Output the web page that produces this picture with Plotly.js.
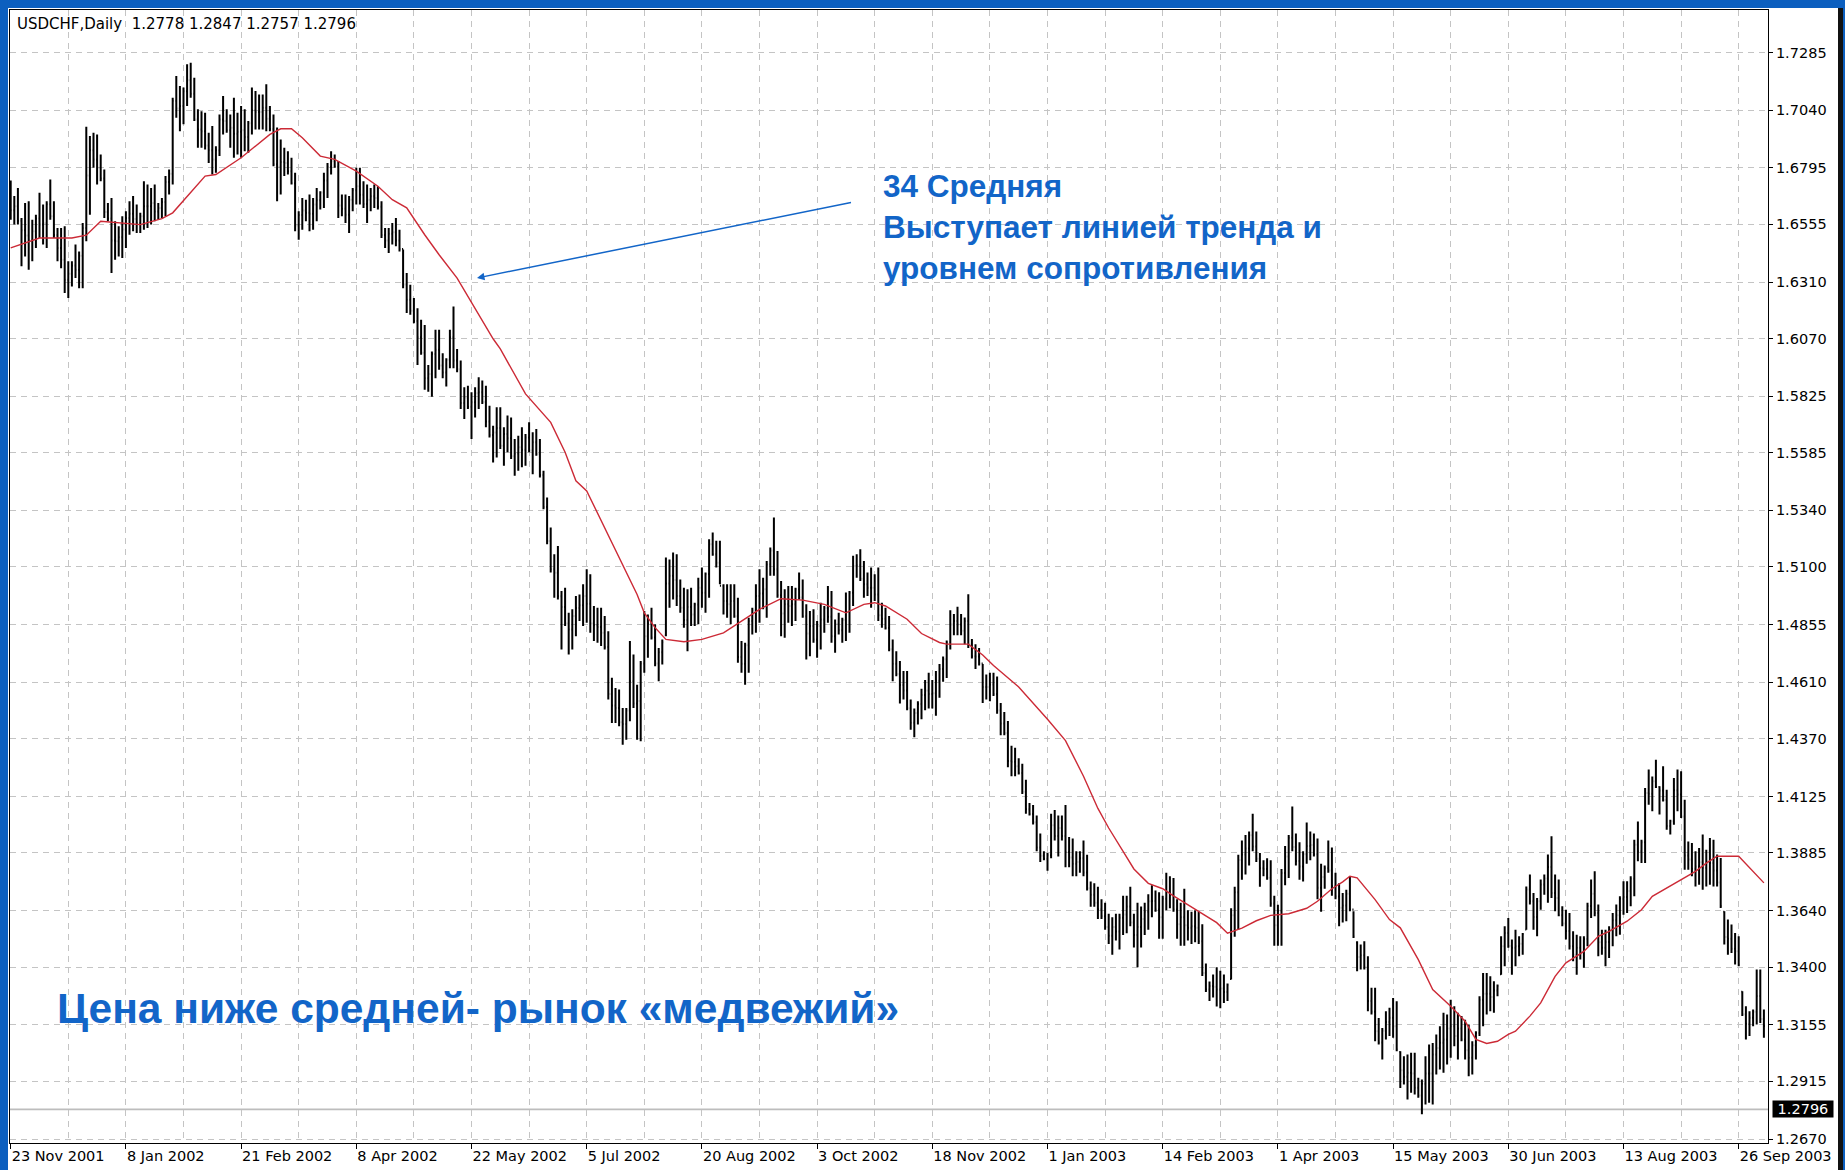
<!DOCTYPE html>
<html><head><meta charset="utf-8">
<script src="https://cdn.plot.ly/plotly-3.0.1.min.js"></script>
<style>
html,body{margin:0;padding:0;width:1845px;height:1170px;overflow:hidden;background:#0c5fbf;}
#edge{position:absolute;left:1838px;top:8px;width:5px;height:1162px;background:#111;}
#chart{position:absolute;left:8px;top:8px;width:1830px;height:1162px;background:#fff;}
</style></head>
<body><div id="edge"></div><div id="chart"></div>
<script>
// ---- header values (last bar O H L C) ----
const symbolName = "USDCHF,Daily";
const headerOHLC = [1.2778, 1.2847, 1.2757, 1.2796];
const lastClose = 1.2796;

// ---- x-axis date labels (one every 32 daily bars) ----
const dateLabels = ["23 Nov 2001","8 Jan 2002","21 Feb 2002","8 Apr 2002","22 May 2002","5 Jul 2002","20 Aug 2002","3 Oct 2002","18 Nov 2002","1 Jan 2003","14 Feb 2003","1 Apr 2003","15 May 2003","30 Jun 2003","13 Aug 2003","26 Sep 2003"];
const dateLabelBars = [0,32,64,96,128,160,192,224,256,288,320,352,384,416,448,480];

// ---- y-axis price labels ----
const priceTicks = [1.7285,1.7040,1.6795,1.6555,1.6310,1.6070,1.5825,1.5585,1.5340,1.5100,1.4855,1.4610,1.4370,1.4125,1.3885,1.3640,1.3400,1.3155,1.2915,1.2670];

// ---- daily bars ----
const highs = [
1.6741,1.6675,1.6710,1.6582,1.6646,1.6653,1.6575,1.6596,1.6689,1.6639,
1.6653,1.6746,1.6653,1.6540,1.6540,1.6547,1.6398,1.6398,1.6469,1.6440,
1.6561,1.6970,1.6930,1.6944,1.6937,1.6852,1.6788,1.6646,1.6667,1.6568,
1.6547,1.6589,1.6611,1.6653,1.6675,1.6639,1.6604,1.6738,1.6724,1.6710,
1.6724,1.6646,1.6667,1.6760,1.6788,1.7093,1.7185,1.7143,1.7136,1.7235,
1.7242,1.7178,1.7044,1.7036,1.7029,1.6944,1.6973,1.6887,1.7022,1.7100,
1.7044,1.7022,1.7093,1.7029,1.7058,1.7044,1.6994,1.7136,1.7122,1.7107,
1.7107,1.7150,1.7058,1.7022,1.6966,1.6916,1.6880,1.6866,1.6838,1.6774,
1.6611,1.6667,1.6660,1.6682,1.6667,1.6710,1.6696,1.6774,1.6816,1.6866,
1.6852,1.6824,1.6682,1.6682,1.6675,1.6710,1.6795,1.6795,1.6738,1.6724,
1.6710,1.6724,1.6717,1.6653,1.6540,1.6540,1.6561,1.6582,1.6532,1.6448,
1.6348,1.6299,1.6242,1.6199,1.6150,1.6128,1.5958,1.6015,1.6107,1.6107,
1.6008,1.5986,1.6107,1.6206,1.6026,1.5977,1.5863,1.5870,1.5842,1.5863,
1.5906,1.5892,1.5870,1.5785,1.5700,1.5778,1.5778,1.5693,1.5743,1.5735,
1.5643,1.5657,1.5693,1.5665,1.5714,1.5672,1.5686,1.5643,1.5508,1.5395,
1.5267,1.5154,1.5189,1.4998,1.5012,1.4905,1.4920,1.4976,1.4983,1.5026,
1.5090,1.5069,1.4934,1.4927,1.4927,1.4891,1.4827,1.4629,1.4586,1.4579,
1.4501,1.4501,1.4785,1.4728,1.4600,1.4700,1.4913,1.4898,1.4927,1.4856,
1.4756,1.4792,1.5140,1.5132,1.5161,1.5154,1.5047,1.5012,1.5005,1.5012,
1.4948,1.5054,1.5097,1.5076,1.5218,1.5246,1.5211,1.5211,1.5026,1.5026,
1.5026,1.5026,1.4969,1.4785,1.4778,1.4884,1.4927,1.5026,1.5090,1.5054,
1.5125,1.5182,1.5310,1.5168,1.5040,1.5005,1.5019,1.5019,1.5012,1.5076,
1.5047,1.4941,1.4913,1.4920,1.4870,1.4948,1.4934,1.5019,1.4998,1.4877,
1.4905,1.4884,1.4991,1.4998,1.5147,1.5154,1.5175,1.5125,1.5076,1.5097,
1.5069,1.5097,1.4948,1.4927,1.4891,1.4792,1.4742,1.4700,1.4658,1.4658,
1.4537,1.4499,1.4529,1.4582,1.4620,1.4650,1.4620,1.4658,1.4688,1.4719,
1.4787,1.4916,1.4900,1.4931,1.4900,1.4885,1.4984,1.4794,1.4772,1.4756,
1.4688,1.4643,1.4650,1.4650,1.4635,1.4522,1.4484,1.4446,1.4340,1.4332,
1.4287,1.4264,1.4196,1.4097,1.4089,1.4044,1.3968,1.3892,1.3885,1.4052,
1.4067,1.4044,1.4044,1.4089,1.3953,1.3946,1.3892,1.3892,1.3938,1.3877,
1.3764,1.3756,1.3741,1.3688,1.3673,1.3627,1.3612,1.3627,1.3627,1.3703,
1.3703,1.3741,1.3627,1.3673,1.3658,1.3673,1.3710,1.3748,1.3726,1.3718,
1.3703,1.3801,1.3786,1.3779,1.3688,1.3673,1.3733,1.3642,1.3635,1.3642,
1.3635,1.3582,1.3415,1.3339,1.3369,1.3400,1.3385,1.3369,1.3331,1.3650,
1.3741,1.3877,1.3938,1.3961,1.3976,1.4052,1.3976,1.3885,1.3854,1.3862,
1.3854,1.3703,1.3665,1.3817,1.3915,1.3961,1.4082,1.3968,1.3930,1.3892,
1.4014,1.3976,1.3968,1.3946,1.3839,1.3832,1.3938,1.3908,1.3801,1.3756,
1.3715,1.3729,1.3786,1.3637,1.3510,1.3496,1.3510,1.3446,1.3312,1.3312,
1.3184,1.3142,1.3213,1.3227,1.3269,1.3255,1.3043,1.3022,1.3029,1.3036,
1.3036,1.2930,1.2923,1.3022,1.3071,1.3078,1.3114,1.3149,1.3206,1.3199,
1.3262,1.3234,1.3206,1.3192,1.3177,1.3156,1.3085,1.3128,1.3276,1.3375,
1.3375,1.3361,1.3340,1.3326,1.3531,1.3574,1.3609,1.3517,1.3559,1.3531,
1.3545,1.3743,1.3793,1.3715,1.3694,1.3772,1.3793,1.3878,1.3956,1.3793,
1.3772,1.3659,1.3644,1.3630,1.3552,1.3538,1.3531,1.3531,1.3673,1.3772,
1.3807,1.3666,1.3559,1.3559,1.3574,1.3630,1.3666,1.3701,1.3765,1.3765,
1.3786,1.3941,1.4019,1.3941,1.4161,1.4239,1.4210,1.4281,1.4168,1.4253,
1.4154,1.4026,1.4203,1.4239,1.4232,1.4111,1.3934,1.3927,1.3892,1.3906,
1.3963,1.3899,1.3949,1.3941,1.3878,1.3864,1.3637,1.3602,1.3581,1.3545,
1.3531,1.3298,1.3234,1.3213,1.3220,1.3390,1.3390,1.3220];

const lows = [
1.6575,1.6554,1.6554,1.6377,1.6419,1.6362,1.6398,1.6455,1.6497,1.6469,
1.6455,1.6575,1.6497,1.6398,1.6369,1.6263,1.6242,1.6291,1.6327,1.6284,
1.6284,1.6483,1.6596,1.6795,1.6724,1.6738,1.6582,1.6568,1.6348,1.6405,
1.6419,1.6412,1.6455,1.6511,1.6526,1.6518,1.6518,1.6532,1.6540,1.6554,
1.6568,1.6575,1.6582,1.6589,1.6682,1.6724,1.7008,1.6951,1.6980,1.7058,
1.7093,1.6994,1.6880,1.6880,1.6873,1.6816,1.6767,1.6774,1.6845,1.6937,
1.6944,1.6880,1.6838,1.6852,1.6838,1.6866,1.6859,1.6937,1.6958,1.6958,
1.6958,1.6951,1.6951,1.6802,1.6653,1.6682,1.6760,1.6767,1.6724,1.6526,
1.6490,1.6532,1.6568,1.6526,1.6532,1.6568,1.6618,1.6625,1.6667,1.6767,
1.6795,1.6582,1.6589,1.6561,1.6518,1.6611,1.6639,1.6639,1.6625,1.6561,
1.6611,1.6625,1.6618,1.6497,1.6455,1.6433,1.6469,1.6462,1.6440,1.6284,
1.6178,1.6171,1.6135,1.5958,1.6001,1.5852,1.5844,1.5823,1.5901,1.5937,
1.5901,1.5866,1.5944,1.5944,1.5927,1.5771,1.5728,1.5771,1.5643,1.5735,
1.5771,1.5792,1.5693,1.5650,1.5544,1.5565,1.5601,1.5530,1.5587,1.5558,
1.5487,1.5508,1.5523,1.5530,1.5587,1.5494,1.5572,1.5480,1.5345,1.5196,
1.5076,1.4969,1.4962,1.4749,1.4849,1.4728,1.4749,1.4806,1.4870,1.4849,
1.4863,1.4820,1.4785,1.4778,1.4764,1.4749,1.4537,1.4437,1.4437,1.4423,
1.4345,1.4366,1.4444,1.4501,1.4366,1.4359,1.4650,1.4714,1.4792,1.4678,
1.4614,1.4685,1.4806,1.4927,1.4962,1.4934,1.4905,1.4842,1.4742,1.4849,
1.4849,1.4856,1.4927,1.4905,1.4969,1.5147,1.5097,1.5026,1.4898,1.4884,
1.4856,1.4884,1.4693,1.4650,1.4600,1.4650,1.4813,1.4820,1.4863,1.4920,
1.4884,1.5062,1.5062,1.4969,1.4806,1.4799,1.4863,1.4849,1.4870,1.4962,
1.4884,1.4707,1.4721,1.4778,1.4714,1.4749,1.4820,1.4863,1.4778,1.4735,
1.4813,1.4778,1.4785,1.4820,1.4934,1.5054,1.5040,1.4969,1.4976,1.4927,
1.4955,1.4870,1.4842,1.4834,1.4742,1.4614,1.4636,1.4520,1.4537,1.4491,
1.4408,1.4377,1.4431,1.4453,1.4491,1.4499,1.4499,1.4468,1.4544,1.4612,
1.4628,1.4749,1.4810,1.4810,1.4810,1.4772,1.4756,1.4711,1.4666,1.4681,
1.4522,1.4537,1.4529,1.4552,1.4476,1.4385,1.4385,1.4249,1.4211,1.4211,
1.4218,1.4135,1.4052,1.4044,1.4006,1.3892,1.3847,1.3854,1.3809,1.3862,
1.3938,1.3870,1.3938,1.3824,1.3824,1.3786,1.3786,1.3801,1.3786,1.3726,
1.3657,1.3657,1.3604,1.3604,1.3559,1.3498,1.3453,1.3513,1.3475,1.3536,
1.3544,1.3574,1.3483,1.3400,1.3483,1.3536,1.3559,1.3612,1.3635,1.3521,
1.3521,1.3642,1.3650,1.3635,1.3521,1.3491,1.3491,1.3513,1.3498,1.3506,
1.3498,1.3362,1.3294,1.3256,1.3271,1.3233,1.3225,1.3248,1.3256,1.3347,
1.3529,1.3559,1.3771,1.3794,1.3832,1.3892,1.3847,1.3741,1.3786,1.3771,
1.3657,1.3491,1.3491,1.3491,1.3748,1.3779,1.3892,1.3832,1.3771,1.3764,
1.3839,1.3854,1.3870,1.3688,1.3635,1.3733,1.3801,1.3703,1.3688,1.3574,
1.3590,1.3595,1.3637,1.3524,1.3383,1.3390,1.3390,1.3213,1.3199,1.3085,
1.3071,1.3008,1.3093,1.3107,1.3100,1.3043,1.2887,1.2901,1.2838,1.2866,
1.2859,1.2845,1.2775,1.2817,1.2824,1.2817,1.2944,1.2965,1.2951,1.2986,
1.3015,1.3064,1.3008,1.3085,1.3008,1.2937,1.2944,1.3008,1.3107,1.3149,
1.3199,1.3213,1.3206,1.3276,1.3368,1.3404,1.3482,1.3368,1.3404,1.3446,
1.3453,1.3559,1.3666,1.3559,1.3531,1.3644,1.3708,1.3673,1.3694,1.3637,
1.3616,1.3574,1.3517,1.3475,1.3425,1.3368,1.3432,1.3397,1.3489,1.3609,
1.3616,1.3446,1.3453,1.3404,1.3439,1.3489,1.3531,1.3538,1.3623,1.3630,
1.3659,1.3701,1.3850,1.3842,1.3842,1.4090,1.4062,1.4161,1.4048,1.4104,
1.3984,1.3963,1.4005,1.4062,1.4033,1.3814,1.3814,1.3786,1.3743,1.3750,
1.3729,1.3743,1.3750,1.3743,1.3743,1.3651,1.3496,1.3453,1.3460,1.3411,
1.3404,1.3192,1.3093,1.3107,1.3149,1.3156,1.3163,1.3100];

const opens = [
1.6700,1.6615,1.6632,1.6570,1.6530,1.6508,1.6487,1.6526,1.6580,1.6554,
1.6560,1.6640,1.6590,1.6510,1.6455,1.6405,1.6320,1.6345,1.6380,1.6362,
1.6422,1.6540,1.6763,1.6870,1.6830,1.6795,1.6750,1.6607,1.6580,1.6486,
1.6483,1.6500,1.6533,1.6582,1.6600,1.6578,1.6561,1.6590,1.6632,1.6632,
1.6646,1.6610,1.6625,1.6650,1.6735,1.6770,1.7080,1.7047,1.7058,1.7120,
1.7167,1.7110,1.7000,1.6958,1.6951,1.6890,1.6870,1.6830,1.6870,1.7000,
1.6994,1.6955,1.6965,1.6940,1.6948,1.6955,1.6926,1.6985,1.7040,1.7032,
1.7032,1.7050,1.7004,1.6960,1.6810,1.6800,1.6820,1.6816,1.6781,1.6730,
1.6550,1.6595,1.6614,1.6604,1.6600,1.6639,1.6657,1.6690,1.6741,1.6800,
1.6823,1.6800,1.6635,1.6621,1.6596,1.6660,1.6700,1.6717,1.6681,1.6642,
1.6660,1.6674,1.6667,1.6630,1.6510,1.6486,1.6515,1.6522,1.6486,1.6450,
1.6300,1.6235,1.6188,1.6145,1.6075,1.6010,1.5901,1.5919,1.6004,1.6022,
1.5955,1.5926,1.5980,1.6075,1.5977,1.5940,1.5796,1.5820,1.5780,1.5799,
1.5838,1.5842,1.5800,1.5718,1.5660,1.5671,1.5690,1.5615,1.5665,1.5647,
1.5570,1.5582,1.5608,1.5598,1.5650,1.5595,1.5629,1.5580,1.5490,1.5355,
1.5210,1.5090,1.5075,1.4975,1.4930,1.4860,1.4834,1.4891,1.4926,1.4937,
1.4976,1.4944,1.4860,1.4852,1.4845,1.4820,1.4760,1.4560,1.4511,1.4501,
1.4440,1.4433,1.4490,1.4614,1.4520,1.4530,1.4690,1.4806,1.4860,1.4800,
1.4690,1.4738,1.4810,1.5030,1.5062,1.5044,1.4976,1.4927,1.4874,1.4930,
1.4898,1.4940,1.5012,1.4990,1.5070,1.5196,1.5154,1.5118,1.5020,1.4955,
1.4941,1.4955,1.4890,1.4717,1.4689,1.4767,1.4870,1.4915,1.4976,1.4987,
1.5005,1.5110,1.5170,1.5090,1.4980,1.4902,1.4941,1.4934,1.4941,1.5005,
1.4970,1.4890,1.4817,1.4849,1.4792,1.4849,1.4877,1.4925,1.4888,1.4806,
1.4859,1.4831,1.4875,1.4909,1.4990,1.5104,1.5107,1.5050,1.5026,1.5012,
1.5012,1.4983,1.4895,1.4880,1.4840,1.4750,1.4689,1.4645,1.4598,1.4575,
1.4500,1.4438,1.4480,1.4518,1.4556,1.4575,1.4560,1.4563,1.4616,1.4666,
1.4708,1.4780,1.4855,1.4870,1.4855,1.4829,1.4870,1.4770,1.4720,1.4719,
1.4690,1.4590,1.4590,1.4601,1.4560,1.4490,1.4435,1.4395,1.4276,1.4272,
1.4253,1.4225,1.4145,1.4071,1.4050,1.4015,1.3908,1.3873,1.3860,1.3875,
1.4003,1.3957,1.3991,1.3957,1.3889,1.3866,1.3839,1.3847,1.3862,1.3802,
1.3735,1.3707,1.3673,1.3646,1.3616,1.3570,1.3533,1.3570,1.3551,1.3610,
1.3624,1.3658,1.3590,1.3537,1.3571,1.3605,1.3635,1.3680,1.3681,1.3645,
1.3612,1.3690,1.3718,1.3707,1.3645,1.3582,1.3612,1.3578,1.3567,1.3574,
1.3567,1.3510,1.3375,1.3305,1.3320,1.3317,1.3305,1.3309,1.3294,1.3350,
1.3620,1.3718,1.3855,1.3878,1.3904,1.3960,1.3912,1.3860,1.3820,1.3817,
1.3780,1.3670,1.3578,1.3640,1.3800,1.3870,1.3950,1.3910,1.3851,1.3828,
1.3880,1.3915,1.3919,1.3880,1.3737,1.3783,1.3820,1.3810,1.3745,1.3700,
1.3652,1.3662,1.3712,1.3645,1.3505,1.3443,1.3450,1.3400,1.3256,1.3210,
1.3128,1.3080,1.3130,1.3167,1.3185,1.3149,1.3040,1.2962,1.2934,1.2951,
1.2948,1.2888,1.2855,1.2905,1.2948,1.2948,1.3029,1.3057,1.3079,1.3093,
1.3139,1.3149,1.3107,1.3139,1.3093,1.3047,1.3015,1.3068,1.3120,1.3262,
1.3287,1.3287,1.3273,1.3301,1.3370,1.3489,1.3545,1.3490,1.3482,1.3489,
1.3499,1.3560,1.3730,1.3680,1.3613,1.3680,1.3751,1.3776,1.3825,1.3715,
1.3694,1.3620,1.3585,1.3553,1.3489,1.3453,1.3482,1.3464,1.3520,1.3660,
1.3712,1.3630,1.3506,1.3482,1.3507,1.3560,1.3599,1.3620,1.3690,1.3698,
1.3723,1.3775,1.3920,1.3892,1.3930,1.4140,1.4136,1.4190,1.4165,1.4150,
1.4110,1.4000,1.4020,1.4151,1.4133,1.4040,1.3874,1.3857,1.3818,1.3828,
1.3846,1.3821,1.3850,1.3842,1.3811,1.3760,1.3635,1.3528,1.3521,1.3478,
1.3468,1.3295,1.3200,1.3160,1.3185,1.3210,1.3277,1.3180];

const closes = [
1.6615,1.6632,1.6570,1.6530,1.6508,1.6487,1.6526,1.6580,1.6554,1.6560,
1.6640,1.6590,1.6510,1.6455,1.6405,1.6320,1.6345,1.6380,1.6362,1.6422,
1.6540,1.6763,1.6870,1.6830,1.6795,1.6750,1.6607,1.6580,1.6486,1.6483,
1.6500,1.6533,1.6582,1.6600,1.6578,1.6561,1.6590,1.6632,1.6632,1.6646,
1.6610,1.6625,1.6650,1.6735,1.6770,1.7080,1.7047,1.7058,1.7120,1.7167,
1.7110,1.7000,1.6958,1.6951,1.6890,1.6870,1.6830,1.6870,1.7000,1.6994,
1.6955,1.6965,1.6940,1.6948,1.6955,1.6926,1.6985,1.7040,1.7032,1.7032,
1.7050,1.7004,1.6960,1.6810,1.6800,1.6820,1.6816,1.6781,1.6730,1.6550,
1.6595,1.6614,1.6604,1.6600,1.6639,1.6657,1.6690,1.6741,1.6800,1.6823,
1.6800,1.6635,1.6621,1.6596,1.6660,1.6700,1.6717,1.6681,1.6642,1.6660,
1.6674,1.6667,1.6630,1.6510,1.6486,1.6515,1.6522,1.6486,1.6450,1.6300,
1.6235,1.6188,1.6145,1.6075,1.6010,1.5901,1.5919,1.6004,1.6022,1.5955,
1.5926,1.5980,1.6075,1.5977,1.5940,1.5796,1.5820,1.5780,1.5799,1.5838,
1.5842,1.5800,1.5718,1.5660,1.5671,1.5690,1.5615,1.5665,1.5647,1.5570,
1.5582,1.5608,1.5598,1.5650,1.5595,1.5629,1.5580,1.5490,1.5355,1.5210,
1.5090,1.5075,1.4975,1.4930,1.4860,1.4834,1.4891,1.4926,1.4937,1.4976,
1.4944,1.4860,1.4852,1.4845,1.4820,1.4760,1.4560,1.4511,1.4501,1.4440,
1.4433,1.4490,1.4614,1.4520,1.4530,1.4690,1.4806,1.4860,1.4800,1.4690,
1.4738,1.4780,1.5030,1.5062,1.5044,1.4976,1.4927,1.4874,1.4930,1.4898,
1.4940,1.5012,1.4990,1.5070,1.5196,1.5154,1.5118,1.5020,1.4955,1.4941,
1.4955,1.4890,1.4717,1.4689,1.4767,1.4870,1.4915,1.4976,1.4987,1.5005,
1.5110,1.5170,1.5090,1.4980,1.4902,1.4941,1.4934,1.4941,1.5005,1.4970,
1.4890,1.4817,1.4849,1.4792,1.4849,1.4877,1.4925,1.4888,1.4806,1.4859,
1.4831,1.4875,1.4909,1.4990,1.5104,1.5107,1.5050,1.5026,1.5012,1.5012,
1.4983,1.4895,1.4880,1.4840,1.4750,1.4689,1.4645,1.4598,1.4575,1.4500,
1.4438,1.4480,1.4518,1.4556,1.4575,1.4560,1.4563,1.4616,1.4666,1.4708,
1.4780,1.4855,1.4870,1.4855,1.4829,1.4870,1.4770,1.4720,1.4719,1.4690,
1.4590,1.4590,1.4601,1.4560,1.4490,1.4435,1.4395,1.4276,1.4272,1.4253,
1.4225,1.4145,1.4071,1.4050,1.4015,1.3908,1.3873,1.3860,1.3875,1.4003,
1.3957,1.3991,1.3957,1.3889,1.3866,1.3839,1.3847,1.3862,1.3802,1.3735,
1.3707,1.3673,1.3646,1.3616,1.3570,1.3533,1.3570,1.3551,1.3610,1.3624,
1.3658,1.3590,1.3537,1.3571,1.3605,1.3635,1.3680,1.3681,1.3645,1.3612,
1.3690,1.3718,1.3707,1.3645,1.3582,1.3612,1.3578,1.3567,1.3574,1.3567,
1.3510,1.3375,1.3305,1.3320,1.3317,1.3305,1.3309,1.3294,1.3325,1.3620,
1.3718,1.3855,1.3878,1.3904,1.3960,1.3912,1.3860,1.3820,1.3817,1.3780,
1.3670,1.3578,1.3640,1.3800,1.3870,1.3950,1.3910,1.3851,1.3828,1.3880,
1.3915,1.3919,1.3880,1.3737,1.3783,1.3820,1.3810,1.3745,1.3700,1.3652,
1.3662,1.3712,1.3645,1.3530,1.3443,1.3450,1.3400,1.3256,1.3210,1.3128,
1.3080,1.3130,1.3167,1.3185,1.3149,1.3050,1.2962,1.2934,1.2951,1.2948,
1.2888,1.2855,1.2905,1.2948,1.2948,1.3029,1.3057,1.3079,1.3093,1.3139,
1.3149,1.3107,1.3139,1.3093,1.3047,1.3015,1.3068,1.3120,1.3262,1.3287,
1.3287,1.3273,1.3301,1.3320,1.3489,1.3545,1.3490,1.3482,1.3489,1.3499,
1.3540,1.3730,1.3680,1.3613,1.3680,1.3751,1.3776,1.3825,1.3715,1.3694,
1.3620,1.3585,1.3553,1.3489,1.3453,1.3482,1.3464,1.3520,1.3660,1.3712,
1.3630,1.3506,1.3482,1.3507,1.3560,1.3599,1.3620,1.3690,1.3698,1.3723,
1.3775,1.3920,1.3892,1.3930,1.4140,1.4136,1.4190,1.4165,1.4150,1.4110,
1.4000,1.4020,1.4151,1.4133,1.4040,1.3874,1.3857,1.3818,1.3828,1.3846,
1.3821,1.3850,1.3842,1.3811,1.3760,1.3660,1.3528,1.3521,1.3478,1.3468,
1.3410,1.3200,1.3160,1.3185,1.3210,1.3277,1.3180,1.3150];

// ---- 34-period moving average ----
const maBars = [0,4,8,17,21,25,30,36,42,45,54,57,64,72,75,78,81,86,90,96,102,106,110,115,119,124,134,136,143,150,154,157,160,164,170,174,176,179,182,187,192,198,203,208,214,220,226,232,237,240,243,247,249,253,258,260,266,270,273,280,285,288,293,298,302,305,309,312,316,320,323,328,331,335,338,342,346,350,355,360,363,367,370,372,374,379,383,386,391,395,400,404,407,410,413,416,418,422,425,429,432,437,441,444,449,453,456,460,464,468,471,474,480,487];
const maValues = [1.6455,1.6476,1.6497,1.6497,1.6509,1.6568,1.6561,1.6554,1.6579,1.6604,1.6760,1.6767,1.6838,1.6937,1.6961,1.6961,1.6923,1.6845,1.6831,1.6781,1.6717,1.6660,1.6625,1.6511,1.6426,1.6327,1.6069,1.6026,1.5835,1.5714,1.5587,1.5466,1.5423,1.5296,1.5104,1.4983,1.4905,1.4842,1.4792,1.4782,1.4792,1.4820,1.4870,1.4920,1.4965,1.4959,1.4941,1.4905,1.4941,1.4948,1.4934,1.4898,1.4878,1.4817,1.4779,1.4772,1.4772,1.4726,1.4681,1.4590,1.4506,1.4453,1.4362,1.4211,1.4074,1.3991,1.3892,1.3817,1.3756,1.3733,1.3703,1.3657,1.3627,1.3589,1.3544,1.3566,1.3597,1.3620,1.3627,1.3650,1.3680,1.3733,1.3762,1.3786,1.3779,1.3687,1.3602,1.3567,1.3432,1.3305,1.3234,1.3170,1.3093,1.3076,1.3085,1.3114,1.3128,1.3192,1.3248,1.3361,1.3418,1.3467,1.3531,1.3552,1.3595,1.3644,1.3701,1.3736,1.3772,1.3807,1.3842,1.3871,1.3871,1.3758];

// ---- annotation texts ----
const noteMA = "34 Средняя<br>Выступает линией тренда и<br>уровнем сопротивления";
const noteBear = "Цена ниже средней- рынок «медвежий»";

// ---------------- drawing ----------------
const barIndex = highs.map((_, i) => i);

// plot box in page pixels
const PL = 10, PR = 1768, PT = 10, PB = 1143;
const px = x => (x - PL) / (PR - PL);
const py = y => (PB - y) / (PB - PT);

const gridC = '#c4c4c4', gridDash = '6px,5px';
const axisFont = {family: 'DejaVu Sans, Verdana, sans-serif', size: 14.5, color: '#000'};
const blue = '#1265c8';

const traces = [
  {
    type: 'ohlc', x: barIndex, open: opens, high: highs, low: lows, close: closes,
    increasing: {line: {color: '#000', width: 2}},
    decreasing: {line: {color: '#000', width: 2}},
    tickwidth: 0.3, hoverinfo: 'skip', showlegend: false
  },
  {
    type: 'scatter', mode: 'lines', x: maBars, y: maValues,
    line: {color: '#cc2a36', width: 1.4}, hoverinfo: 'skip', showlegend: false
  }
];

const layout = {
  width: 1830, height: 1162,
  margin: {l: PL - 8, t: PT - 8, r: 1830 - (PR - 8), b: 1162 - (PB - 8), pad: 0},
  paper_bgcolor: '#ffffff', plot_bgcolor: '#ffffff',
  showlegend: false, hovermode: false,
  font: axisFont,
  xaxis: {
    range: [(PL - 10.7) / 3.6, (PR - 10.7) / 3.6],
    tickmode: 'array', tickvals: dateLabelBars, ticktext: dateLabels,
    ticks: 'outside', ticklen: 5, tickcolor: '#000', tickwidth: 1,
    ticklabelposition: 'outside right',
    tickfont: axisFont,
    showgrid: true, gridcolor: gridC, griddash: gridDash, gridwidth: 1,
    minor: {tickmode: 'linear', tick0: 0, dtick: 16, showgrid: true, gridcolor: gridC, griddash: gridDash, gridwidth: 1, ticks: ''},
    showline: true, linecolor: '#000', linewidth: 1, mirror: true,
    zeroline: false, rangeslider: {visible: false}, fixedrange: true
  },
  yaxis: {
    side: 'right',
    range: [1.2670 - (PB - 1139) / 2354, 1.7285 + (52.5 - PT) / 2354],
    tickmode: 'array', tickvals: priceTicks, tickformat: '.4f',
    ticks: 'outside', ticklen: 4, tickcolor: '#000', tickwidth: 1,
    tickfont: axisFont,
    showgrid: true, gridcolor: gridC, griddash: gridDash, gridwidth: 1,
    showline: true, linecolor: '#000', linewidth: 1, mirror: true,
    zeroline: false, fixedrange: true
  },
  shapes: [
    {type: 'line', xref: 'paper', x0: 0, x1: 1, yref: 'y', y0: lastClose, y1: lastClose,
     line: {color: '#bdbdbd', width: 1.6}, layer: 'below'}
  ],
  annotations: [
    {xref: 'paper', yref: 'paper', x: px(15), y: py(24), xanchor: 'left', yanchor: 'middle',
     showarrow: false, text: symbolName + '\u00a0\u00a0' + headerOHLC.map(v => v.toFixed(4)).join(' '),
     font: {family: 'DejaVu Sans, Verdana, sans-serif', size: 15, color: '#000'}},
    {xref: 'paper', yref: 'y', x: px(1772), y: lastClose, xanchor: 'left', yanchor: 'middle',
     showarrow: false, text: '\u00a0' + lastClose.toFixed(4) + '\u00a0', bgcolor: '#000', borderpad: 0,
     font: {family: 'DejaVu Sans, Verdana, sans-serif', size: 14.5, color: '#fff'}},
    {xref: 'paper', yref: 'paper', x: px(881), y: py(227), xanchor: 'left', yanchor: 'middle',
     align: 'left', showarrow: false, text: '<b>' + noteMA.split('<br>').join('</b><br><b>') + '</b>',
     font: {family: 'Liberation Sans, Arial, sans-serif', size: 31.5, color: blue}},
    {xref: 'paper', yref: 'paper', x: px(477), y: py(278), text: '\u00a0',
     font: {size: 2, color: blue}, showarrow: true, axref: 'pixel', ayref: 'pixel', ax: 376, ay: -76,
     arrowcolor: blue, arrowwidth: 1.5, arrowhead: 2, arrowsize: 1, standoff: 0, startstandoff: 0},
    {xref: 'paper', yref: 'paper', x: px(55), y: py(1008), xanchor: 'left', yanchor: 'middle',
     showarrow: false, text: '<b>' + noteBear + '</b>',
     font: {family: 'Liberation Sans, Arial, sans-serif', size: 42.5, color: blue}}
  ]
};

Plotly.newPlot('chart', traces, layout, {staticPlot: true, displayModeBar: false});
</script></body></html>
